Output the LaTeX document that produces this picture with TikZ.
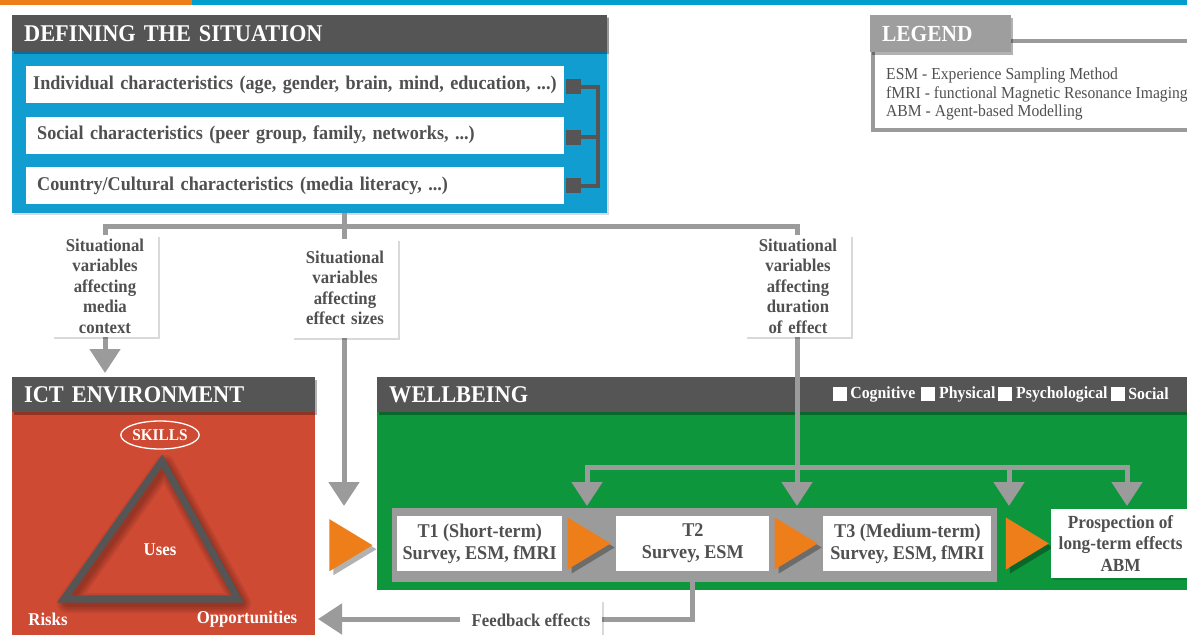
\documentclass[tikz,border=0pt]{standalone}
\usepackage{fontspec}
\setmainfont{Liberation Serif}[FakeStretch=0.93]
\usetikzlibrary{positioning, arrows.meta, shapes.geometric, shadows}

\definecolor{situationBlue}{RGB}{17,157,207}
\definecolor{headGray}{RGB}{85,85,85}
\definecolor{ictRed}{RGB}{207,74,51}
\definecolor{wellGreen}{RGB}{14,150,60}
\definecolor{tipOrange}{RGB}{238,126,26}
\definecolor{lineGray}{RGB}{155,155,155}
\definecolor{legendGray}{RGB}{158,158,158}
\definecolor{textGray}{RGB}{80,80,80}
\definecolor{barBlue}{RGB}{0,158,204}

\begin{document}
\begin{tikzpicture}[
  x=1pt, y=-1pt,
  every node/.style={font=\bfseries},
  soft/.style={drop shadow={shadow xshift=2pt, shadow yshift=-2pt, opacity=0.15, fill=black}},
  panel/.style={rectangle, anchor=north west, inner sep=0pt},
  head/.style={rectangle, fill=headGray, text=white, anchor=north west, minimum height=36pt,
    inner xsep=12pt, inner ysep=0pt, align=left, font=\bfseries\fontsize{24}{26}\selectfont,
    drop shadow={shadow xshift=2pt, shadow yshift=-3pt, opacity=0.3, fill=black}},
  row/.style={rectangle, fill=white, text=textGray, minimum height=37pt, text width=524pt,
    inner xsep=7pt, align=left, font=\bfseries\fontsize{19.5}{22}\selectfont},
  sqr/.style={rectangle, fill=headGray, minimum size=15pt, inner sep=0pt},
  bracket/.style={draw=headGray, line width=4pt},
  conn/.style={draw=lineGray, line width=5pt},
  tip/.style={-{Triangle[width=30pt,length=24pt]}},
  var/.style={rectangle, fill=white, text=textGray, text width=92pt, inner xsep=7pt,
    minimum height=99pt, align=center, font=\bfseries\fontsize{18}{20.5}\selectfont, soft},
  stage/.style={rectangle, fill=white, text=textGray, minimum height=55pt, align=center,
    inner xsep=2pt, font=\bfseries\fontsize{19.5}{22}\selectfont},
  orangetip/.style={isosceles triangle, isosceles triangle stretches, fill=tipOrange,
    minimum width=52pt, minimum height=43pt, inner sep=0pt,
    drop shadow={shadow xshift=4pt, shadow yshift=-4pt, opacity=0.3, fill=black}},
  catsq/.style={rectangle, fill=white, minimum size=14pt, inner sep=0pt},
  cat/.style={text=white, inner sep=0pt, font=\bfseries\fontsize{17}{18}\selectfont},
  ictlabel/.style={text=white, inner sep=0pt, font=\bfseries\fontsize{18}{20}\selectfont}
]
\useasboundingbox (0,0) rectangle (1187,635);

% top bars
\fill[tipOrange] (0,0) rectangle (192,5);
\fill[barBlue] (192,0) rectangle (1187,5);

% Defining the situation
\node[panel, fill=situationBlue, minimum width=595pt, minimum height=198pt, soft] (situation) at (12,15) {};
\node[head, text width=571pt] (situationhead) at (12,15) {DEFINING THE SITUATION};
\node[row, anchor=north west] (individual) at (26,66)
  {Individual characteristics (age, gender, brain, mind, education, ...)};
\node[row, below=13pt of individual, text width=516pt, inner xsep=11pt] (social)
  {Social characteristics (peer group, family, networks, ...)};
\node[row, below=13pt of social, text width=516pt, inner xsep=11pt] (country)
  {Country/Cultural characteristics (media literacy, ...)};
\node[sqr, right=1pt of individual, yshift=-2pt] (indsq) {};
\node[sqr, right=1pt of social, yshift=-2pt] (socsq) {};
\node[sqr, right=1pt of country] (cousq) {};
\draw[bracket] (indsq.east) -- ++(17,0) coordinate (brk) |- (cousq.east);
\draw[bracket] (socsq.east) -- (socsq.east -| brk);

% Legend
\draw[draw=lineGray, line width=3.5pt] (873,41) rectangle (1190,130);
\node[head, fill=legendGray, text width=117pt, minimum height=37pt,
  font=\bfseries\fontsize{23}{25}\selectfont] (legendhead) at (870,15) {LEGEND};
\node[font=\fontsize{16.8}{18.5}\selectfont, text=textGray, align=left, anchor=north west,
  inner sep=0pt] (legendtext) at (886,68)
  {ESM - Experience Sampling Method\\fMRI - functional Magnetic Resonance Imaging\\ABM - Agent-based Modelling};

% ICT environment
\node[panel, fill=ictRed, minimum width=303pt, minimum height=258pt] (ict) at (12,377) {};
\node[head, text width=279pt, minimum height=35pt] (icthead) at (12,377) {ICT ENVIRONMENT};
\node[ellipse, draw=white, line width=1.3pt, text=white, inner sep=0pt, minimum width=74pt,
  minimum height=28pt, font=\bfseries\fontsize{16.5}{18}\selectfont] (skills) at (160,435) {SKILLS};
\coordinate (apex) at (162,461);
\coordinate (riskcorner) at (64,599);
\coordinate (oppcorner) at (238,599);
\foreach \w in {8,12,16,20}
  \draw[black, opacity=0.07, line width=\w pt, line join=round]
    ([shift={(3,4)}]apex) -- ([shift={(3,4)}]riskcorner) -- ([shift={(3,4)}]oppcorner) -- cycle;
\draw[headGray, line width=7pt, line join=miter] (apex) -- (riskcorner) -- (oppcorner) -- cycle;
\node[ictlabel] (uses) at (160,550) {Uses};
\node[ictlabel] (risks) at (48,619) {Risks};
\node[ictlabel] (opps) at (247,619) {Opportunities};

% Wellbeing
\node[panel, fill=wellGreen, minimum width=813pt, minimum height=213pt] (well) at (377,377) {};
\node[head, text width=789pt, minimum height=35pt] (wellhead) at (377,377) {WELLBEING};
\node[catsq] (cogsq) at (840,394) {};
\node[cat, right=3pt of cogsq] (cog) {Cognitive};
\node[catsq, right=5pt of cog] (physq) {};
\node[cat, right=4pt of physq] (phy) {Physical};
\node[catsq, right=2pt of phy] (psysq) {};
\node[cat, right=4pt of psysq] (psy) {Psychological};
\node[catsq, right=3pt of psy] (socialsq) {};
\node[cat, right=3pt of socialsq] (soc) {Social};

\node[panel, fill=lineGray, minimum width=605pt, minimum height=74pt] (stages) at (392,508) {};
\node[stage, minimum width=165pt, anchor=west] (t1) at (397,543.5) {T1 (Short-term)\\Survey, ESM, fMRI};
\node[orangetip, right=5pt of t1] (tip1) {};
\node[stage, minimum width=153pt, right=5pt of tip1] (t2) {T2\\Survey, ESM};
\node[orangetip, right=5pt of t2] (tip2) {};
\node[stage, minimum width=168pt, right=5pt of tip2] (t3) {T3 (Medium-term)\\Survey, ESM, fMRI};
\node[orangetip, right=14pt of t3] (tip3) {};
\node[stage, minimum width=140pt, minimum height=69pt, inner xsep=0pt, right=1pt of tip3, soft,
  font=\bfseries\fontsize{18.5}{21.5}\selectfont] (prospect)
  {Prospection of\\long-term effects\\ABM};
\node[orangetip, left=19pt of stages] (entry) {};

% Connectors
\coordinate (split) at (344,226);
\coordinate (ictin) at (105,373);
\coordinate (wellin) at (344,506);
\coordinate (fork) at (797,467);
\coordinate (in1) at (587,506);
\coordinate (in2) at (797,506);
\coordinate (in3) at (1009,506);
\coordinate (in4) at (1127,506);
\coordinate (ictfb) at (318,619);
\draw[conn] (situation.south -| split) -- (split);
\draw[conn, tip] (split) -| (ictin);
\draw[conn, tip] (split) -- (wellin);
\draw[conn] (split) -| (fork);
\draw[conn, tip] (fork) -| (in1);
\draw[conn, tip] (fork) -- (in2);
\draw[conn, tip] (fork) -| (in3);
\draw[conn, tip] (fork) -| (in4);
\draw[conn, tip] (t2.south) |- (ictfb);

% Labels on the connectors
\node[var] (mediactx) at (105,286) {Situational\\variables\\affecting\\media\\context};
\node[var] (effsize) at (345,288) {Situational\\variables\\affecting\\effect sizes};
\node[var] (duration) at (798,286) {Situational\\variables\\affecting\\duration\\of effect};
\node[rectangle, fill=white, text=textGray, minimum width=142pt, minimum height=40pt,
  font=\bfseries\fontsize{18}{20}\selectfont, soft] (feedback) at (531,620) {Feedback effects};
\end{tikzpicture}
\end{document}
